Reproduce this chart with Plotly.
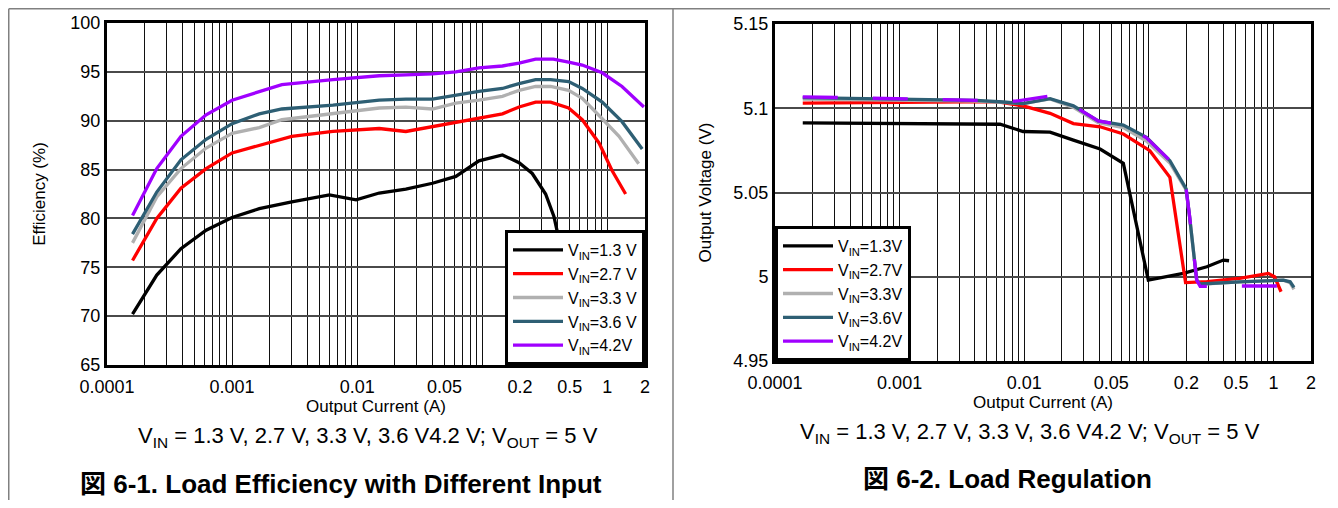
import numpy as np
import plotly.graph_objects as go

FONT = "Liberation Sans, Arial, Noto Sans CJK JP, sans-serif"
# the page body adds an 8px margin, so the figure is drawn 16px smaller and
# reference pixel positions are shifted by that margin
PAGE_MARGIN = 8
W, H = 1338 - 2 * PAGE_MARGIN, 508 - 2 * PAGE_MARGIN

# ---------------- Left chart: efficiency (%) vs output current (A) ----------------
eff_i_13 = [0.00016, 0.00025, 0.00039, 0.00062, 0.001, 0.00165, 0.003, 0.006, 0.0098, 0.015,
            0.0245, 0.040, 0.0615, 0.094, 0.145, 0.197, 0.251, 0.321, 0.374, 0.41, 0.45]
eff_v_13 = [70.2, 74.2, 76.9, 78.8, 80.1, 81.0, 81.7, 82.4, 81.9, 82.6,
            83.0, 83.6, 84.3, 85.9, 86.5, 85.7, 84.6, 82.5, 80.2, 77.8, 75.5]

eff_i_27 = [0.00016, 0.00025, 0.00039, 0.00062, 0.001, 0.00165, 0.003, 0.0064, 0.015, 0.0245,
            0.040, 0.094, 0.145, 0.197, 0.267, 0.352, 0.49, 0.63, 0.86, 1.09, 1.4]
eff_v_27 = [75.7, 80.0, 83.1, 85.1, 86.7, 87.5, 88.4, 88.9, 89.2, 88.9,
            89.4, 90.2, 90.7, 91.4, 91.9, 91.9, 91.3, 90.1, 87.7, 84.9, 82.5]

eff_i_33 = [0.00016, 0.00025, 0.00039, 0.00062, 0.001, 0.00165, 0.0025, 0.0064, 0.015, 0.0245,
            0.040, 0.0615, 0.094, 0.145, 0.197, 0.267, 0.352, 0.49, 0.63, 0.91, 1.24, 1.78]
eff_v_33 = [77.5, 82.2, 85.1, 87.2, 88.7, 89.3, 90.1, 90.7, 91.3, 91.4,
            91.2, 91.8, 92.1, 92.5, 93.1, 93.5, 93.5, 93.1, 92.3, 90.2, 88.4, 85.6]

eff_i_36 = [0.00016, 0.00025, 0.00039, 0.00062, 0.001, 0.00165, 0.0025, 0.0064, 0.015, 0.0245,
            0.040, 0.0615, 0.094, 0.145, 0.197, 0.267, 0.352, 0.49, 0.63, 0.91, 1.31, 1.90]
eff_v_36 = [78.4, 82.7, 86.0, 88.1, 89.7, 90.7, 91.2, 91.6, 92.1, 92.2,
            92.2, 92.6, 93.0, 93.3, 93.8, 94.2, 94.2, 94.0, 93.3, 91.9, 89.9, 87.1]

eff_i_42 = [0.00016, 0.00025, 0.00039, 0.00062, 0.001, 0.00165, 0.0025, 0.0064, 0.015, 0.0245,
            0.040, 0.0615, 0.094, 0.145, 0.197, 0.267, 0.37, 0.49, 0.63, 0.91, 1.31, 1.96]
eff_v_42 = [80.3, 85.1, 88.4, 90.6, 92.1, 93.0, 93.7, 94.2, 94.6, 94.7,
            94.8, 95.0, 95.4, 95.6, 95.9, 96.3, 96.3, 96.0, 95.7, 94.9, 93.5, 91.4]

# ---------------- Right chart: output voltage (V) vs output current (A) ----------------
reg_i_13 = [0.000167, 0.001, 0.0064, 0.0098, 0.0161, 0.0248, 0.0406, 0.0624, 0.099, 0.189,
            0.292, 0.396, 0.44]
reg_v_13 = [5.0913, 5.0910, 5.0905, 5.0862, 5.0858, 5.0811, 5.0758, 5.0673, 4.9980, 5.0020,
            5.0059, 5.0099, 5.0095]

reg_i_27 = [0.000167, 0.001, 0.0060, 0.0098, 0.0161, 0.0248, 0.0406, 0.0624, 0.1018, 0.1475,
            0.197, 0.292, 0.535, 0.909, 1.02, 1.15]
reg_v_27 = [5.1031, 5.1033, 5.1039, 5.1014, 5.0970, 5.0909, 5.0890, 5.0847, 5.0748, 5.0590,
            4.9965, 4.9971, 4.9990, 5.0020, 5.0000, 4.9911]

reg_i_33 = [0.000167, 0.00107, 0.0041, 0.0068, 0.0098, 0.0161, 0.0248, 0.0392, 0.0624, 0.0957,
            0.1475, 0.199, 0.211, 0.242, 0.258, 0.535, 1.2, 1.36, 1.46]
reg_v_33 = [5.1055, 5.1048, 5.1042, 5.1035, 5.1027, 5.1055, 5.1005, 5.0915, 5.0885, 5.0805,
            5.0675, 5.0515, 5.0370, 4.9980, 4.9955, 4.9970, 4.9980, 4.9965, 4.9925]

reg_i_36 = [0.000167, 0.00107, 0.0041, 0.0068, 0.0098, 0.0161, 0.0248, 0.0392, 0.0624, 0.0957,
            0.1475, 0.199, 0.211, 0.242, 0.258, 0.535, 1.2, 1.36, 1.46]
reg_v_36 = [5.1063, 5.1053, 5.1047, 5.1037, 5.1027, 5.1057, 5.1014, 5.0925, 5.0900, 5.0827,
            5.0689, 5.0522, 5.0374, 4.9980, 4.9957, 4.9970, 4.9980, 4.9970, 4.9937]

reg_i_42 = [0.000167, 0.00107, 0.0041, 0.0085, 0.0161, 0.0248, 0.0392, 0.0624, 0.0957, 0.1475,
            0.199, 0.211, 0.242, 0.258, 0.535, 1.2, 1.45]
reg_v_42 = [5.1068, 5.1058, 5.1050, 5.1042, 5.1073, 5.1015, 5.0925, 5.0900, 5.0825, 5.0690,
            5.0522, 5.0374, 4.9980, 4.9943, 4.9945, 4.9945, 4.9945]

# tick labels
x_tickvals = [0.0001, 0.001, 0.01, 0.05, 0.2, 0.5, 1, 2]
x_ticktext = ["0.0001", "0.001", "0.01", "0.05", "0.2", "0.5", "1", "2"]
eff_tickvals = [65, 70, 75, 80, 85, 90, 95, 100]
reg_tickvals = [4.95, 5.0, 5.05, 5.1, 5.15]
reg_ticktext = ["4.95", "5", "5.05", "5.1", "5.15"]

eff_names = ["V<sub>IN</sub>=1.3 V", "V<sub>IN</sub>=2.7 V", "V<sub>IN</sub>=3.3 V",
             "V<sub>IN</sub>=3.6 V", "V<sub>IN</sub>=4.2V"]
reg_names = ["V<sub>IN</sub>=1.3V", "V<sub>IN</sub>=2.7V", "V<sub>IN</sub>=3.3V",
             "V<sub>IN</sub>=3.6V", "V<sub>IN</sub>=4.2V"]
colors = ["#000000", "#ff0000", "#b0b0b0", "#2e5f74", "#a000ff"]

caption = "V<sub>IN</sub> = 1.3 V, 2.7 V, 3.3 V, 3.6 V4.2 V; V<sub>OUT</sub> = 5 V"
title_left = "<b>図 6-1. Load Efficiency with Different Input</b>"
title_right = "<b>図 6-2. Load Regulation</b>"

LW = 3.3
fig = go.Figure()

eff_series = [(eff_i_13, eff_v_13), (eff_i_27, eff_v_27), (eff_i_33, eff_v_33),
              (eff_i_36, eff_v_36), (eff_i_42, eff_v_42)]
for (xi, yi), nm, c in zip(eff_series, eff_names, colors):
    fig.add_trace(go.Scatter(x=xi, y=yi, mode="lines", name=nm,
                             line=dict(color=c, width=LW),
                             xaxis="x", yaxis="y", legend="legend"))

reg_series = [(reg_i_13, reg_v_13), (reg_i_27, reg_v_27), (reg_i_33, reg_v_33),
              (reg_i_36, reg_v_36), (reg_i_42, reg_v_42)]
for k, ((xi, yi), nm, c) in enumerate(zip(reg_series, reg_names, colors)):
    if k == 4:
        # the 4.2 V curve shows as long dashes over the 3.6 V curve; its legend key is solid
        fig.add_trace(go.Scatter(x=xi, y=yi, mode="lines", name=nm, showlegend=False,
                                 legendgroup="r42",
                                 line=dict(color=c, width=LW, dash="35px,35px"),
                                 xaxis="x2", yaxis="y2", legend="legend2"))
        fig.add_trace(go.Scatter(x=[None], y=[None], mode="lines", name=nm,
                                 legendgroup="r42", line=dict(color=c, width=LW),
                                 xaxis="x2", yaxis="y2", legend="legend2"))
    else:
        fig.add_trace(go.Scatter(x=xi, y=yi, mode="lines", name=nm,
                                 line=dict(color=c, width=LW),
                                 xaxis="x2", yaxis="y2", legend="legend2"))

minor_vals = [k * 10.0 ** e for e in range(-4, 0) for k in range(1, 10)] + [1, 2]


def px_x(p):
    return (p - PAGE_MARGIN) / W


def px_y(p):
    return 1 - (p - PAGE_MARGIN) / H


TICK = 18
xcommon = dict(
    type="log", range=[-4, np.log10(2)], tickmode="array",
    tickvals=x_tickvals, ticktext=x_ticktext, showgrid=False, ticks="",
    minor=dict(tickmode="array", tickvals=minor_vals, showgrid=True,
               gridcolor="#111111", gridwidth=1, ticks=""),
    showline=True, linecolor="black", linewidth=3, mirror=True, zeroline=False,
    tickfont=dict(family=FONT, size=TICK, color="black"),
    ticklabelstandoff=3, automargin=False,
)

legend_common = dict(bgcolor="white", bordercolor="black", borderwidth=3, itemwidth=50,
                     font=dict(family=FONT, size=16, color="black"), tracegroupgap=0)

fig.update_layout(
    width=W, height=H,
    margin=dict(l=0, r=0, t=0, b=0, pad=0, autoexpand=False),
    paper_bgcolor="white", plot_bgcolor="white",
    font=dict(family=FONT, color="black"),
    xaxis=dict(domain=[px_x(107), px_x(645)], anchor="y",
               title=dict(text="Output Current (A)", font=dict(size=17), standoff=2),
               **xcommon),
    yaxis=dict(domain=[px_y(365), px_y(23)], anchor="x", range=[65, 100],
               tickmode="array", tickvals=eff_tickvals, showgrid=True,
               gridcolor="#4a4a4a", gridwidth=1.5, ticks="", automargin=False,
               showline=True, linecolor="black", linewidth=3, mirror=True, zeroline=False,
               tickfont=dict(family=FONT, size=TICK, color="black"),
               title=dict(text="Efficiency (%)", font=dict(size=17), standoff=21)),
    xaxis2=dict(domain=[px_x(775), px_x(1311)], anchor="y2",
                title=dict(text="Output Current (A)", font=dict(size=17), standoff=2),
                **xcommon),
    yaxis2=dict(domain=[px_y(361), px_y(24)], anchor="x2", range=[4.95, 5.15],
                tickmode="array", tickvals=reg_tickvals, ticktext=reg_ticktext,
                showgrid=True, gridcolor="#4a4a4a", gridwidth=1.5, ticks="", automargin=False,
                showline=True, linecolor="black", linewidth=3, mirror=True, zeroline=False,
                tickfont=dict(family=FONT, size=TICK, color="black"),
                title=dict(text="Output Voltage (V)", font=dict(size=17), standoff=18)),
    legend=dict(x=px_x(645), xanchor="right", y=px_y(365), yanchor="bottom", **legend_common),
    legend2=dict(x=px_x(775), xanchor="left", y=px_y(361), yanchor="bottom", **legend_common),
    showlegend=True,
)

# captions and figure titles
fig.add_annotation(text=caption, x=px_x(368), y=px_y(437), xref="paper", yref="paper",
                   showarrow=False, font=dict(family=FONT, size=22, color="black"),
                   xanchor="center", yanchor="middle")
fig.add_annotation(text=caption, x=px_x(1030), y=px_y(433), xref="paper", yref="paper",
                   showarrow=False, font=dict(family=FONT, size=22, color="black"),
                   xanchor="center", yanchor="middle")
fig.add_annotation(text=title_left, x=px_x(341), y=px_y(484), xref="paper", yref="paper",
                   showarrow=False, font=dict(family=FONT, size=26, color="black"),
                   xanchor="center", yanchor="middle")
fig.add_annotation(text=title_right, x=px_x(1007), y=px_y(479), xref="paper", yref="paper",
                   showarrow=False, font=dict(family=FONT, size=26, color="black"),
                   xanchor="center", yanchor="middle")

# table-like frame around the two figures
frame = dict(color="#808080", width=1.5)
top = px_y(PAGE_MARGIN + 0.75)
left = px_x(PAGE_MARGIN + 0.75)
fig.add_shape(type="line", xref="paper", yref="paper", x0=left, x1=1, y0=top, y1=top, line=frame)
fig.add_shape(type="line", xref="paper", yref="paper", x0=left, x1=left, y0=0, y1=top, line=frame)
fig.add_shape(type="line", xref="paper", yref="paper", x0=px_x(673), x1=px_x(673), y0=0, y1=top, line=frame)

fig.write_html("out.html")
